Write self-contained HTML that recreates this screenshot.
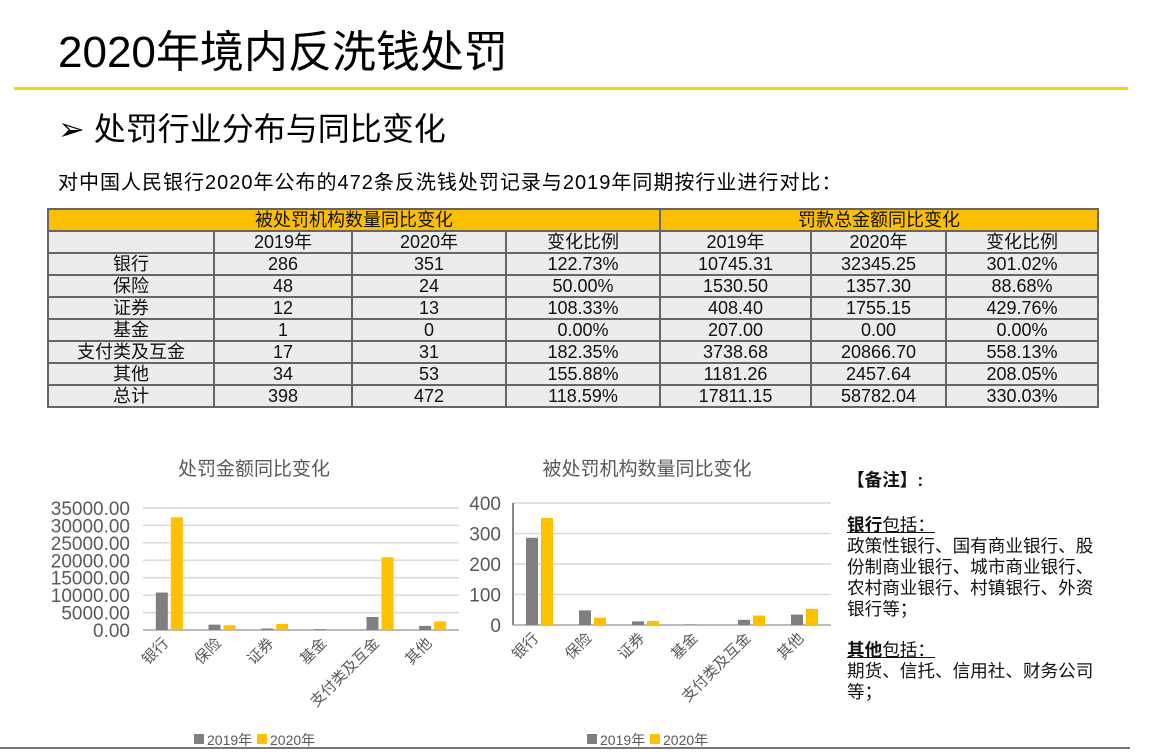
<!DOCTYPE html>
<html><head><meta charset="utf-8">
<style>
body{margin:0;width:1151px;height:752px;position:relative;background:#fff;font-family:"Liberation Sans","Noto Sans CJK SC",sans-serif;overflow:hidden}
.a{position:absolute;white-space:nowrap}
table{position:absolute;left:47px;top:208px;border-collapse:collapse;font-size:18px;color:#111}
td{border:2px solid #666;background:#ececec;text-align:center;height:20px;padding:0;line-height:20px}
td.h{background:#fbbf00}
.n{position:absolute;left:847px;font-size:17.6px;line-height:21px;color:#111}
</style></head><body>
<div class="a" style="left:58px;top:16px;font-size:44px">2020年境内反洗钱处罚</div>
<div class="a" style="left:14px;top:87px;width:1114px;height:3px;background:#f5d800"></div>
<div class="a" style="left:58px;top:104px;font-size:32px">➢ 处罚行业分布与同比变化</div>
<div class="a" style="left:58px;top:166px;font-size:20px;letter-spacing:1px">对中国人民银行2020年公布的472条反洗钱处罚记录与2019年同期按行业进行对比：</div>
<table>
<tr><td class="h" colspan="4" style="width:608px">被处罚机构数量同比变化</td><td class="h" colspan="3">罚款总金额同比变化</td></tr>
<tr><td style="width:164px"></td><td style="width:136px">2019年</td><td style="width:152px">2020年</td><td style="width:152px">变化比例</td><td style="width:149px">2019年</td><td style="width:133px">2020年</td><td style="width:150px">变化比例</td></tr>
<tr><td>银行</td><td>286</td><td>351</td><td>122.73%</td><td>10745.31</td><td>32345.25</td><td>301.02%</td></tr>
<tr><td>保险</td><td>48</td><td>24</td><td>50.00%</td><td>1530.50</td><td>1357.30</td><td>88.68%</td></tr>
<tr><td>证券</td><td>12</td><td>13</td><td>108.33%</td><td>408.40</td><td>1755.15</td><td>429.76%</td></tr>
<tr><td>基金</td><td>1</td><td>0</td><td>0.00%</td><td>207.00</td><td>0.00</td><td>0.00%</td></tr>
<tr><td>支付类及互金</td><td>17</td><td>31</td><td>182.35%</td><td>3738.68</td><td>20866.70</td><td>558.13%</td></tr>
<tr><td>其他</td><td>34</td><td>53</td><td>155.88%</td><td>1181.26</td><td>2457.64</td><td>208.05%</td></tr>
<tr><td>总计</td><td>398</td><td>472</td><td>118.59%</td><td>17811.15</td><td>58782.04</td><td>330.03%</td></tr>
</table>
<svg id="c" class="a" style="left:0;top:0" width="1151" height="752"></svg>
<div class="n" style="top:470px;font-weight:bold">【备注】:</div>
<div class="n" style="top:515px;width:256px;white-space:normal"><u><b>银行</b>包括：</u><br>政策性银行、国有商业银行、股份制商业银行、城市商业银行、农村商业银行、村镇银行、外资银行等；</div>
<div class="n" style="top:640px;width:256px;white-space:normal"><u><b>其他</b>包括：</u><br>期货、信托、信用社、财务公司等；</div>
<div class="a" style="left:0;top:747px;width:1130px;height:2px;background:#777"></div>
<script>
const categories=["银行","保险","证券","基金","支付类及互金","其他"];
const amount2019=[10745.31,1530.50,408.40,207.00,3738.68,1181.26];
const amount2020=[32345.25,1357.30,1755.15,0,20866.70,2457.64];
const count2019=[286,48,12,1,17,34];
const count2020=[351,24,13,0,31,53];
const amountTicks=[0,5000,10000,15000,20000,25000,30000,35000];
const countTicks=[0,100,200,300,400];
const svg=document.getElementById('c');const NS='http://www.w3.org/2000/svg';
function mk(t,a,txt){const e=document.createElementNS(NS,t);for(const k in a)e.setAttribute(k,a[k]);if(txt!=null)e.textContent=txt;svg.appendChild(e);return e;}
function chart(o){
 const {x0,x1,yTop,yBot,max,ticks,s1,s2,title,tx,fmt,vaxis,name}=o;
 const y=v=>yBot-(v/max)*(yBot-yTop);
 const cw=(x1-x0)/categories.length;
 let t=mk('text',{x:tx,y:475,'text-anchor':'middle','font-size':19,fill:'#595959'},title);
 
 ticks.forEach(v=>{
  let g=mk('line',{x1:x0,x2:x1,y1:y(v),y2:y(v),stroke:v==0?'#bbb':'#d9d9d9','stroke-width':v==0?2:1.5});
  
  let l=mk('text',{x:x0-(vaxis?12:13),y:y(v)+7,'text-anchor':'end','font-size':19,fill:'#595959'},fmt(v));
  
 });
 if(vaxis){let a=mk('line',{x1:x0,x2:x0,y1:yTop,y2:yBot,stroke:'#888','stroke-width':2});}
 categories.forEach((c,i)=>{
  const cx=x0+cw*(i+0.5),bw=12;
  let b1=mk('rect',{x:cx-bw-1.5,y:y(s1[i]),width:bw,height:yBot-y(s1[i]),fill:'#7f7f7f'});
  
  let b2=mk('rect',{x:cx+1.5,y:y(s2[i]),width:bw,height:yBot-y(s2[i]),fill:'#ffc000'});
  
  let l=mk('text',{x:cx,y:yBot+14,'text-anchor':'end','font-size':15,fill:'#595959',transform:`rotate(-45 ${cx} ${yBot+14})`},c);
  
 });
 const lx=tx-60;
 let r1=mk('rect',{x:lx,y:734,width:10,height:10,fill:'#7f7f7f'});
 let t1=mk('text',{x:lx+13,y:745,'font-size':14,fill:'#595959'},'2019年');
 let r2=mk('rect',{x:lx+63,y:734,width:10,height:10,fill:'#ffc000'});
 let t2=mk('text',{x:lx+76,y:745,'font-size':14,fill:'#595959'},'2020年');
}
chart({x0:143,x1:459,yTop:508,yBot:630,max:35000,ticks:amountTicks,s1:amount2019,s2:amount2020,title:'处罚金额同比变化',tx:254,fmt:v=>v.toFixed(2),vaxis:false,name:'amount-chart'});
chart({x0:513,x1:831,yTop:503,yBot:625,max:400,ticks:countTicks,s1:count2019,s2:count2020,title:'被处罚机构数量同比变化',tx:647,fmt:v=>String(v),vaxis:true,name:'count-chart'});
</script>
</body></html>
